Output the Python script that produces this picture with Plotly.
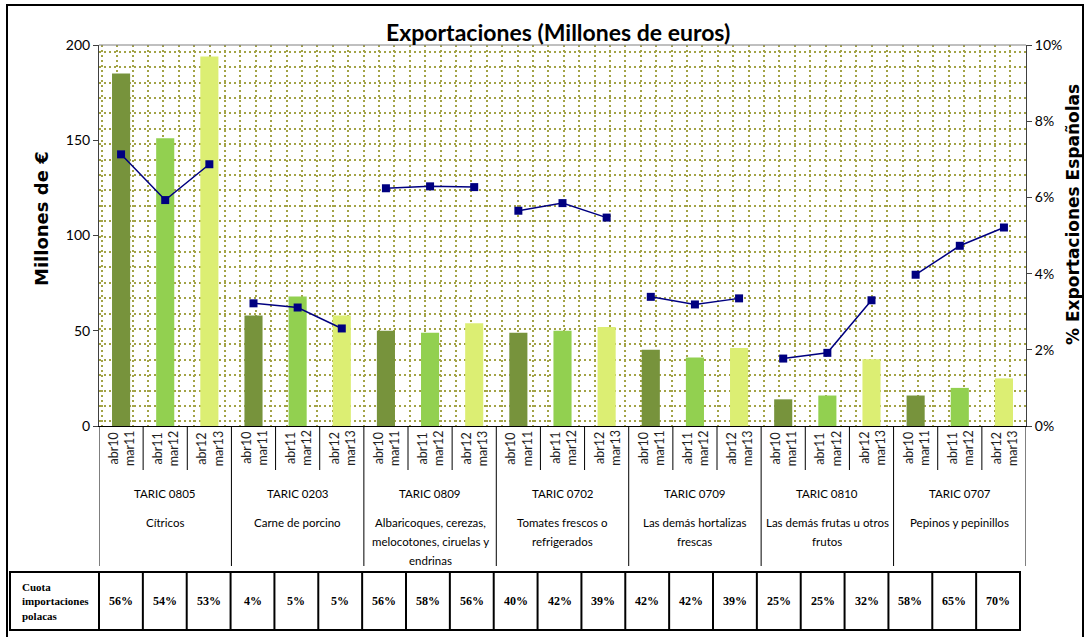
import plotly.graph_objects as go

W, H = 1092, 637

# ---- data -------------------------------------------------------------
groups = ["TARIC 0805", "TARIC 0203", "TARIC 0809", "TARIC 0702",
          "TARIC 0709", "TARIC 0810", "TARIC 0707"]
group_names = [
    ["Cítricos"],
    ["Carne de porcino"],
    ["Albaricoques, cerezas,", "melocotones, ciruelas y", "endrinas"],
    ["Tomates frescos o", "refrigerados"],
    ["Las demás hortalizas", "frescas"],
    ["Las demás frutas u otros", "frutos"],
    ["Pepinos y pepinillos"],
]
periods = ["abr10<br>mar11", "abr11<br>mar12", "abr12<br>mar13"]

# exports, millions of euros, per period
exports_p1 = [185, 58, 50, 49, 40, 14, 16]
exports_p2 = [151, 68, 49, 50, 36, 16, 20]
exports_p3 = [194, 58, 54, 52, 41, 35, 25]

# share of total Spanish exports (%), per period
share_p1 = [7.13, 3.22, 6.24, 5.65, 3.39, 1.77, 3.97]
share_p2 = [5.93, 3.11, 6.29, 5.85, 3.19, 1.92, 4.73]
share_p3 = [6.87, 2.56, 6.27, 5.47, 3.35, 3.30, 5.21]

# share of Polish imports (%), one per bar
polish_share = [56, 54, 53, 4, 5, 5, 56, 58, 56, 40, 42, 39,
                42, 42, 39, 25, 25, 32, 58, 65, 70]

bar_colors = ["#77933C", "#92D050", "#DCEE73"]
line_color = "#000080"

# ---- geometry helpers (pixels -> paper) ------------------------------
PX0, PX1, PY0, PY1 = 99, 1026, 45, 426


def px(x):
    return x / W


def py(y):
    return 1 - y / H


n_g = len(groups)
n_p = len(periods)
n_cat = n_g * n_p

fig = go.Figure()

# bars, one trace per period
for p, vals in enumerate([exports_p1, exports_p2, exports_p3]):
    fig.add_trace(go.Bar(
        x=[g * n_p + p for g in range(n_g)],
        y=vals,
        width=0.41,
        marker=dict(color=bar_colors[p], line=dict(width=0)),
        showlegend=False,
        hoverinfo="y",
    ))

# share line, broken between product groups
lx, ly = [], []
for g in range(n_g):
    for p, vals in enumerate([share_p1, share_p2, share_p3]):
        lx.append(g * n_p + p)
        ly.append(vals[g] / 100)
    lx.append(None)
    ly.append(None)
fig.add_trace(go.Scatter(
    x=lx, y=ly, yaxis="y2", mode="lines+markers",
    line=dict(color=line_color, width=1.5),
    marker=dict(symbol="square", size=8, color=line_color),
    connectgaps=False, showlegend=False,
))

# empty trace carrying the dotted background pattern axes
fig.add_trace(go.Scatter(x=[None], y=[None], xaxis="x3", yaxis="y3",
                         showlegend=False, hoverinfo="skip"))

dom_x = [px(PX0), px(PX1)]
dom_y = [py(PY1), py(PY0)]

grid_col = "#a3a346"
step = 15.4
gx0, gy0 = 101.7, 421.3

fig.update_layout(
    width=W, height=H,
    margin=dict(l=0, r=0, t=0, b=0, autoexpand=False),
    paper_bgcolor="white", plot_bgcolor="white",
    barmode="overlay",
    xaxis=dict(domain=dom_x, range=[-0.5, n_cat - 0.5],
               showticklabels=False, ticks="", showgrid=False,
               zeroline=False, showline=True, linecolor="black",
               linewidth=1, anchor="y"),
    yaxis=dict(domain=dom_y, range=[0, 200], dtick=50, ticks="outside",
               ticklen=5, tickcolor="#404040", showgrid=False,
               zeroline=False, showline=True, linecolor="#404040",
               linewidth=1, tickfont=dict(family="Lato", size=14,
                                          color="black"),
               anchor="x"),
    yaxis2=dict(overlaying="y", side="right", range=[0, 0.10],
                dtick=0.02, tickformat=".0%", ticks="outside", ticklen=5,
                tickcolor="#404040", showgrid=False, zeroline=False,
                showline=True, linecolor="#404040", linewidth=1,
                tickfont=dict(family="Lato", size=14, color="black"),
                anchor="x"),
    xaxis3=dict(overlaying="x", anchor="y3",
                range=[(PX0 - gx0) / step, (PX1 - gx0) / step],
                tick0=0, dtick=1, showgrid=True, gridcolor=grid_col,
                gridwidth=2, griddash="2px,3px", showticklabels=False,
                ticks="", zeroline=False, showline=False),
    yaxis3=dict(overlaying="y", anchor="x3",
                range=[(gy0 - PY1) / step, (gy0 - PY0) / step],
                tick0=0, dtick=1, showgrid=True, gridcolor=grid_col,
                gridwidth=2, griddash="2px,3px", showticklabels=False,
                ticks="", zeroline=False, showline=False),
)

shapes = []
annotations = []


def note(x, y, text, size, family="Lato", xref="paper", angle=0,
         xanchor="center", align="center", color="black"):
    annotations.append(dict(
        x=x, y=y, xref=xref, yref="paper", text=text, textangle=angle,
        showarrow=False, xanchor=xanchor, yanchor="middle", align=align,
        font=dict(family=family, size=size, color=color)))


# chart title
note(px(558), py(32), "<b>Exportaciones (Millones de euros)</b>", 23)

# top border of the plot area
shapes.append(dict(type="line", xref="paper", yref="paper",
                   x0=px(PX0), x1=px(PX1), y0=py(PY0), y1=py(PY0),
                   line=dict(color="#808080", width=1)))

# separators below the category axis
for k in range(n_cat + 1):
    edge = k - 0.5
    long_line = (k % n_p == 0)
    shapes.append(dict(type="line", xref="x", yref="paper",
                       x0=edge, x1=edge, y0=py(PY1),
                       y1=py(566 if long_line else 470),
                       line=dict(color="black", width=1)))

# period labels
for k in range(n_cat):
    note(k, py(448), periods[k % n_p], 12.5, xref="x", angle=-90,
         color="#222222")

# group labels
for g in range(n_g):
    cx = g * n_p + 1
    note(cx, py(493), groups[g], 11.5, xref="x")
    for i, line in enumerate(group_names[g]):
        note(cx, py(522 + 19 * i), line, 11.5, xref="x")

# axis titles
note(px(42), py(219), "<b>Millones de €</b>", 18,
     family="DejaVu Sans", angle=-90)
note(px(1073), py(215), "<b>% Exportaciones Españolas</b>", 17,
     family="DejaVu Sans", angle=-90)

# table of Polish import shares
TY0, TY1 = 572, 630
TX0, TXL, TX1 = 10, 99, 1020
col_w = (TX1 - TXL) / n_cat
edges = [TX0, TXL] + [TXL + col_w * (k + 1) for k in range(n_cat)]
shapes.append(dict(type="rect", xref="paper", yref="paper",
                   x0=px(TX0), x1=px(TX1), y0=py(TY1), y1=py(TY0),
                   line=dict(color="black", width=2)))
for e in edges[1:-1]:
    shapes.append(dict(type="line", xref="paper", yref="paper",
                       x0=px(e), x1=px(e), y0=py(TY1), y1=py(TY0),
                       line=dict(color="black", width=2)))
note(px(20), py(601), "<b>Cuota<br>importaciones<br>polacas</b>", 11,
     family="Liberation Serif", xanchor="left", align="left")
for k, v in enumerate(polish_share):
    cx = TXL + col_w * (k + 0.5)
    note(px(cx), py(601), f"<b>{v}%</b>", 12, family="Liberation Serif")

# outer frame
shapes.append(dict(type="rect", xref="paper", yref="paper",
                   x0=px(7), x1=px(1083), y0=py(640), y1=py(5),
                   line=dict(color="black", width=2)))

fig.update_layout(shapes=shapes, annotations=annotations)

fig.write_html("out.html")
